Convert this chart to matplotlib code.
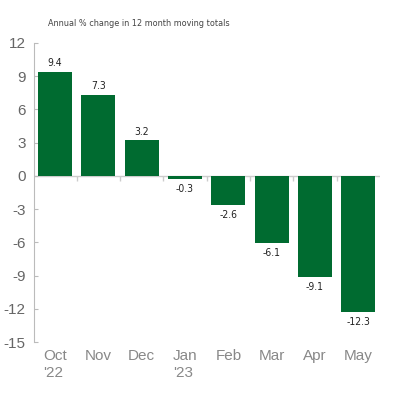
import numpy as np
from matplotlib import pyplot as plt

months = ["Oct\n'22", "Nov", "Dec", "Jan\n'23", "Feb", "Mar", "Apr", "May"]
changes = [9.4, 7.3, 3.2, -0.3, -2.6, -6.1, -9.1, -12.3]
yticks = [-15, -12, -9, -6, -3, 0, 3, 6, 9, 12]

green = "#006b30"

plt.rcParams['font.family'] = ['Liberation Sans', 'DejaVu Sans']

fig = plt.figure(figsize=(4, 4), dpi=100)
ax = fig.add_axes([0.085, 0.145, 0.865, 0.7475])

x = np.arange(len(months))
ax.bar(x, changes, width=0.79, color=green, zorder=2)

# value labels above / below each bar
for xi, v in zip(x, changes):
    off = 0.35 if v >= 0 else -0.45
    ax.text(xi, v + off, str(v), ha="center", va="bottom" if v >= 0 else "top",
            fontsize=7.5, family="DejaVu Sans", fontstretch="condensed",
            color="#222222")

# zero line with little ticks between bars
ax.axhline(0, color="#cccccc", lw=1, zorder=1)
ax.vlines(x[:-1] + 0.5, -0.45, 0, color="#cccccc", lw=1, zorder=1)

ax.set_xlim(-0.485, 7.5)
ax.set_ylim(-15, 12)
ax.set_yticks(yticks)
ax.set_yticklabels([str(t) for t in yticks], fontsize=11, color="#666666")
ax.set_xticks(x)
ax.set_xticklabels(months, fontsize=11, color="#888888", linespacing=1.3)
ax.tick_params(axis="x", length=0, pad=5)
ax.tick_params(axis="y", direction="in", length=3, color="#bbbbbb", pad=6)
for lbl in ax.get_xticklabels():
    lbl.set_multialignment("left")

for s in ["top", "right", "bottom"]:
    ax.spines[s].set_visible(False)
ax.spines["left"].set_color("#bbbbbb")

fig.text(0.12, 0.94, "Annual % change in 12 month moving totals", fontsize=6.5,
         family="DejaVu Sans", fontstretch="condensed", color="#444444",
         va="center")

fig.savefig("out.png", dpi=100)
